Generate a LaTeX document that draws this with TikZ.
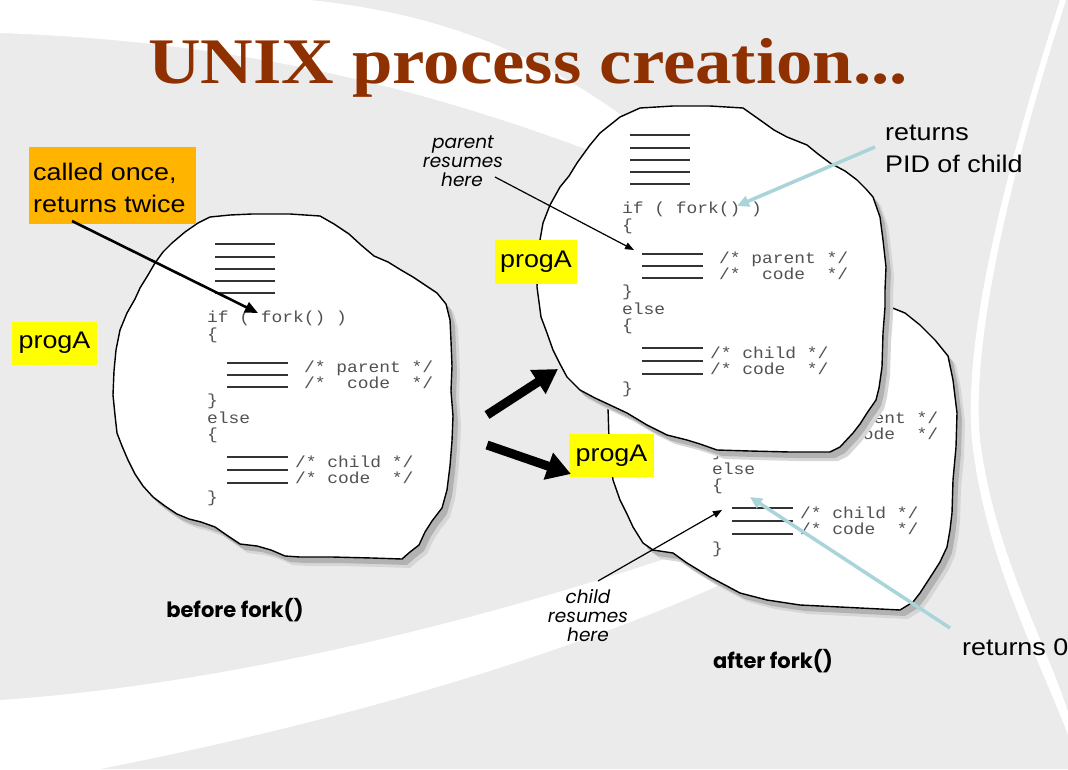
\documentclass[tikz,border=0pt]{standalone}
\usepackage{fontspec}
\usetikzlibrary{arrows.meta}

\newfontfamily\titlefont{Liberation Serif}[FakeStretch=1.12]
\newfontfamily\labelfont{Liberation Sans}[FakeStretch=1.12]
\newfontfamily\codefont{Liberation Mono}[FakeStretch=1.12]
\newfontfamily\geofont{Poppins}

\definecolor{bggray}{RGB}{235,235,235}
\definecolor{titlered}{RGB}{143,48,0}
\definecolor{calloutorange}{RGB}{255,181,0}
\definecolor{tagyellow}{RGB}{255,255,0}
\definecolor{paleblue}{RGB}{168,212,218}

% outlines of the three process images (pixel grid, y downwards)
\def\blobA{(210,217) -- (230,215) -- (252,214) -- (290,214) -- (320,216) -- (334,224) -- (349,234) -- (361,245) -- (374,256) -- (388,262) -- (401,270) -- (413,277) -- (425,285) -- (437,293) -- (446,304) -- (450,320) -- (451,341) -- (452,366) -- (451,391) -- (453,416) -- (452,441) -- (450,466) -- (447,490) -- (442,508) -- (432,521) -- (425,532) -- (419,545) -- (410,552) -- (402,559) -- (372,558) -- (332,557) -- (300,557) -- (285,556) -- (271,550) -- (257,546) -- (240,544) -- (228,536) -- (215,527) -- (201,522) -- (189,519) -- (177,514) -- (165,506) -- (153,497) -- (143,486) -- (135,474) -- (128,460) -- (122,446) -- (117,433) -- (115,415) -- (113,395) -- (114,371) -- (116,350) -- (120,330) -- (127,313) -- (135,299) -- (140,288) -- (148,275) -- (155,263) -- (163,252) -- (172,243) -- (185,232) -- (198,223) -- cycle}
\def\blobB{(620,117) -- (640,108) -- (673,106) -- (710,106) -- (743,108) -- (760,120) -- (774,130) -- (787,137) -- (807,145) -- (818,154) -- (830,163) -- (845,171) -- (857,180) -- (866,189) -- (873,197) -- (880,217) -- (883,240) -- (886,267) -- (885,290) -- (885,307) -- (883,333) -- (882,367) -- (879,388) -- (876,400) -- (867,413) -- (860,424) -- (853,433) -- (840,447) -- (830,452) -- (790,452) -- (750,451) -- (717,450) -- (700,444) -- (687,440) -- (667,435) -- (647,425) -- (627,413) -- (610,405) -- (595,398) -- (580,390) -- (567,377) -- (560,364) -- (553,350) -- (547,333) -- (541,317) -- (537,287) -- (538,257) -- (540,240) -- (543,223) -- (550,205) -- (560,187) -- (569,176) -- (577,163) -- (590,145) -- (600,133) -- cycle}
\def\blobC{(608,407) -- (609,440) -- (611,465) -- (613,480) -- (620,500) -- (627,514) -- (633,527) -- (643,543) -- (653,550) -- (673,553) -- (687,563) -- (710,577) -- (740,593) -- (767,600) -- (800,605) -- (840,607) -- (880,609) -- (900,610) -- (913,602) -- (920,593) -- (933,573) -- (940,562) -- (947,547) -- (950,530) -- (952,513) -- (953,480) -- (956,447) -- (957,413) -- (953,380) -- (948,356) -- (935,340) -- (920,325) -- (905,313) -- (885,305) -- (860,300) -- (700,300) -- (640,330) -- (615,370) -- cycle}

\tikzset{
  codetext/.style={anchor=base west, inner sep=0pt, text=black!68,
    font=\codefont\fontsize{16}{16}\selectfont},
  codebar/.style={line width=1.6pt, draw=black!80},
  blobline/.style={fill=white, draw=black, line width=1.4pt, line join=round},
  labeltext/.style={inner sep=0pt, font=\labelfont\fontsize{24}{32}\selectfont},
  tagbox/.style={fill=tagyellow, inner sep=0pt, minimum width=85pt, minimum height=43pt,
    font=\labelfont\fontsize{24}{32}\selectfont},
  geoit/.style={anchor=base, inner sep=0pt, font=\geofont\itshape\fontsize{18.5}{20}\selectfont},
  geobold/.style={anchor=base, inner sep=0pt, font=\geofont\bfseries\fontsize{21}{23}\selectfont},
  calloutarrow/.style={-{Triangle[length=13pt,width=11pt]}, line width=2.6pt},
  thinarrow/.style={-{Triangle[length=9pt,width=7pt]}, line width=1.2pt},
  hintarrow/.style={-{Triangle[length=12pt,width=11pt]}, line width=3.5pt, draw=paleblue},
  blockarrow/.style={-{Triangle[length=24pt,width=27pt]}, line width=9pt},
  % upper half of the program listing: header lines, the fork test, parent body
  codeupper/.pic={
    \foreach \yy in {-78,-65,-53,-41,-29} \draw[codebar] (8,\yy) -- (68,\yy);
    \node[codetext] (-if) at (0,0) {if ( fork() )};
    \node[codetext] (-ob1) at (0,17) {\{};
    \foreach \yy in {41,53,65} \draw[codebar] (20,\yy) -- (81,\yy);
  },
  % lower half: comments of the parent branch, the else branch
  codelower/.pic={
    \node[codetext] (-pa) at (97,50) {/* parent */};
    \node[codetext] (-pb) at (97,66) {/*~~code~~*/};
    \node[codetext] (-cb1) at (0,83) {\}};
    \node[codetext] (-else) at (0,101) {else};
    \node[codetext] (-ob2) at (0,117) {\{};
    \foreach \yy in {135,148,161} \draw[codebar] (20,\yy) -- (81,\yy);
    \node[codetext] (-ca) at (88,145) {/* child */};
    \node[codetext] (-cc) at (88,161) {/* code~~*/};
    \node[codetext] (-cb2) at (0,180) {\}};
  }
}

\begin{document}
\begin{tikzpicture}[x=1pt,y=-1pt]
\useasboundingbox (0,0) rectangle (1068,769);

% background with white swooshes
\fill[bggray] (0,0) rectangle (1068,769);
\fill[white] (0,0) -- (310,0) .. controls (450,15) and (580,60) .. (720,200)
  .. controls (560,140) and (350,45) .. (0,33) -- cycle;
\fill[white] (0,700) .. controls (300,680) and (680,570) .. (950,450)
  .. controls (780,590) and (450,700) .. (100,769) -- (0,769) -- cycle;
\fill[white] (1060,0) .. controls (1012,150) and (962,330) .. (972,440)
  .. controls (985,560) and (1040,660) .. (1068,735) -- (1068,712)
  .. controls (1045,640) and (995,555) .. (980,440)
  .. controls (970,330) and (1018,150) .. (1066,0) -- cycle;

% title
\node[anchor=base, inner sep=0pt, text=titlered,
  font=\titlefont\bfseries\fontsize{65}{70}\selectfont] (title) at (528,83)
  {UNIX process creation...};

% process image before fork()
\fill[black!16, shift={(8,9)}] \blobA;
\fill[black!30, shift={(5,6)}] \blobA;
\path[blobline] \blobA;
\pic (preU) at (207,322) {codeupper};
\pic (preL) at (207,322) {codelower};

% child process image (its upper half lies under the parent image)
\fill[black!16, shift={(8,9)}] \blobC;
\fill[black!30, shift={(5,6)}] \blobC;
\path[blobline] \blobC;
\pic (kidL) at (712,373) {codelower};

% parent process image
\fill[black!16, shift={(8,9)}] \blobB;
\fill[black!30, shift={(5,6)}] \blobB;
\path[blobline] \blobB;
\pic (parU) at (622,213) {codeupper};
\pic (parL) at (622,213) {codelower};

% labels
\node[fill=calloutorange, inner sep=0pt, minimum width=167pt, minimum height=77pt]
  (called) at (112.5,185.5) {};
\node[labeltext, anchor=base west] (calledA) at (33,180) {called once,};
\node[labeltext, anchor=base west] (calledB) at (33,212) {returns twice};

\node[tagbox] (tagPre) at (54.5,343) {progA};
\node[tagbox, minimum width=82pt, minimum height=44pt] (tagPar) at (536,262) {progA};
\node[tagbox] (tagKid) at (611.5,455.5) {progA};

\node[geoit] (parL1) at (463,148) {parent};
\node[geoit] (parL2) at (463,167) {resumes};
\node[geoit] (parL3) at (462,186) {here};

\node[geoit] (kidL1) at (588,603) {child};
\node[geoit] (kidL2) at (588,622) {resumes};
\node[geoit] (kidL3) at (588,641) {here};

\node[geobold] (before) at (235,617) {before fork()};
\node[geobold] (after) at (773,668) {after fork()};

\node[labeltext, anchor=base west] (pidA) at (885,140) {returns};
\node[labeltext, anchor=base west] (pidB) at (885,172) {PID of child};
\node[labeltext, anchor=base west] (zero) at (962,655) {returns 0};

% connectors
\coordinate (calledTail) at (72,221);
\coordinate (calledTip) at (258,313);
\coordinate (parTail) at (495,177);
\coordinate (parTip) at (634,250);
\coordinate (kidTail) at (598,581);
\coordinate (kidTip) at (722,510);
\coordinate (pidTail) at (875,147);
\coordinate (pidTip) at (737,206);
\coordinate (zeroTail) at (950,628);
\coordinate (zeroTip) at (750,497);
\coordinate (fwdTailA) at (487,415);
\coordinate (fwdTipA) at (558,369);
\coordinate (fwdTailB) at (487,445);
\coordinate (fwdTipB) at (571,474);

\draw[calloutarrow] (calledTail) -- (calledTip);
\draw[thinarrow] (parTail) -- (parTip);
\draw[thinarrow] (kidTail) -- (kidTip);
\draw[hintarrow] (pidTail) -- (pidTip);
\draw[hintarrow] (zeroTail) -- (zeroTip);
\draw[blockarrow] (fwdTailA) -- (fwdTipA);
\draw[blockarrow] (fwdTailB) -- (fwdTipB);
\end{tikzpicture}
\end{document}
